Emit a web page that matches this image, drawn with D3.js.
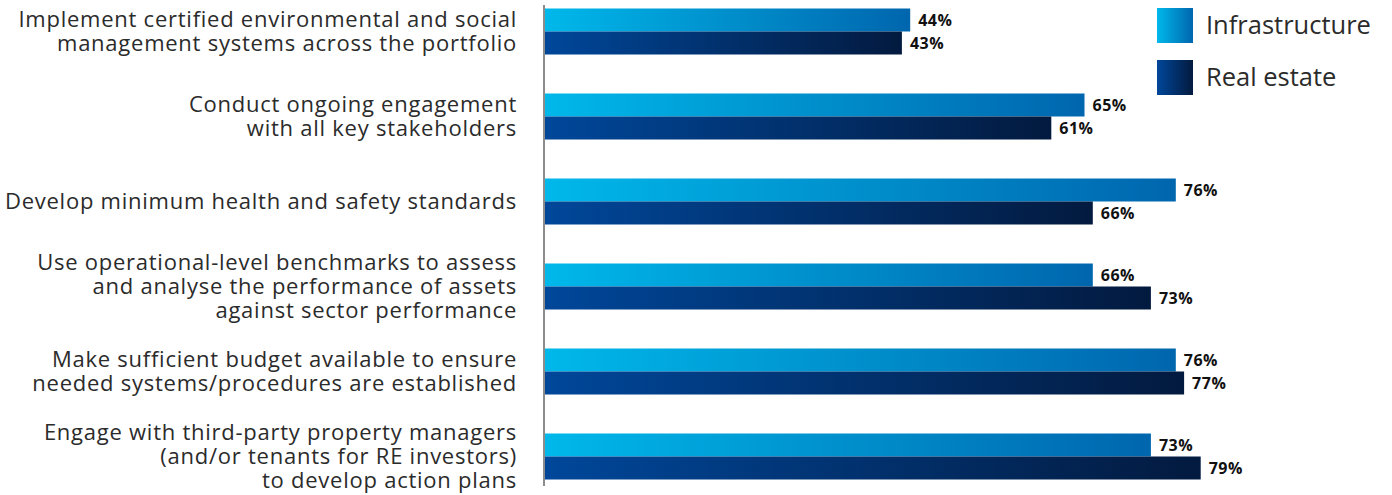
<!DOCTYPE html>
<html>
<head>
<meta charset="utf-8">
<script src="https://cdn.jsdelivr.net/npm/d3@7"></script>
<style>
  html, body { margin: 0; padding: 0; background: #fff; }
  svg { display: block; }
</style>
</head>
<body>
<svg id="chart" width="1392" height="495"></svg>
<script>
// Survey actions and the share of investors applying each one
const categories = [
  ["Implement certified environmental and social", "management systems across the portfolio"],
  ["Conduct ongoing engagement", "with all key stakeholders"],
  ["Develop minimum health and safety standards"],
  ["Use operational-level benchmarks to assess", "and analyse the performance of assets", "against sector performance"],
  ["Make sufficient budget available to ensure", "needed systems/procedures are established"],
  ["Engage with third-party property managers", "(and/or tenants for RE investors)", "to develop action plans"]
];
const seriesNames = ["Infrastructure", "Real estate"];
const infrastructure = [44, 65, 76, 66, 76, 73];
const realEstate = [43, 61, 66, 73, 77, 79];

const svg = d3.select("#chart");
const defs = svg.append("defs");

const gradients = {
  "Infrastructure": ["#00b8ea", "#0066ae"],
  "Real estate": ["#00479a", "#031a3f"]
};
Object.entries(gradients).forEach(([name, stops], i) => {
  const g = defs.append("linearGradient")
    .attr("id", "grad" + i)
    .attr("x1", "0%").attr("x2", "100%").attr("y1", "0%").attr("y2", "0%");
  g.append("stop").attr("offset", "0%").attr("stop-color", stops[0]);
  g.append("stop").attr("offset", "100%").attr("stop-color", stops[1]);
});
const fillFor = name => "url(#grad" + seriesNames.indexOf(name) + ")";

const x0 = 545;
const x = d3.scaleLinear().domain([0, 100]).range([x0, x0 + 830]);

const idx = d3.range(categories.length);
const y = d3.scaleBand().domain(idx).range([-11, 499]).padding(0);
const ySeries = d3.scaleBand().domain(seriesNames)
  .range([(y.bandwidth() - 46) / 2, (y.bandwidth() + 46) / 2]).padding(0);

const rows = idx.map(i => ({
  i,
  values: [
    { series: "Infrastructure", value: infrastructure[i] },
    { series: "Real estate", value: realEstate[i] }
  ]
}));

const group = svg.selectAll("g.row").data(rows).join("g")
  .attr("class", "row")
  .attr("transform", d => `translate(0,${y(d.i)})`);

group.selectAll("rect").data(d => d.values).join("rect")
  .attr("x", x(0))
  .attr("y", d => ySeries(d.series))
  .attr("width", d => x(d.value) - x(0))
  .attr("height", ySeries.bandwidth())
  .attr("fill", d => fillFor(d.series));

group.selectAll("text.val").data(d => d.values).join("text")
  .attr("class", "val")
  .attr("x", d => x(d.value) + 8)
  .attr("y", d => ySeries(d.series) + ySeries.bandwidth() / 2)
  .attr("dy", "0.36em")
  .attr("font-family", "'Open Sans', sans-serif")
  .attr("font-weight", 700)
  .attr("font-size", 16)
  .attr("letter-spacing", 0.5)
  .attr("fill", "#111")
  .text(d => d.value + "%");

// Category labels, right-aligned against the axis
const lineH = 24;
group.append("text")
  .attr("text-anchor", "end")
  .attr("font-family", "'Open Sans', sans-serif")
  .attr("font-size", 22)
  .attr("letter-spacing", 0.75)
  .attr("fill", "#2b2b2b")
  .each(function(d) {
    const lines = categories[d.i];
    const t = d3.select(this);
    const start = y.bandwidth() / 2 - (lines.length - 1) * lineH / 2;
    lines.forEach((ln, k) => {
      t.append("tspan")
        .attr("x", 517)
        .attr("y", start + k * lineH)
        .attr("dy", "0.35em")
        .text(ln);
    });
  });

// Vertical axis line
svg.append("line")
  .attr("x1", 544).attr("x2", 544)
  .attr("y1", 5).attr("y2", 486)
  .attr("stroke", "#666").attr("stroke-width", 1.5);

// Legend
const legend = svg.append("g").attr("transform", "translate(1157,8)");
const li = legend.selectAll("g").data(seriesNames).join("g")
  .attr("transform", (d, i) => `translate(0,${i * 52})`);
li.append("rect").attr("width", 36).attr("height", 35).attr("fill", d => fillFor(d));
li.append("text")
  .attr("x", 49).attr("y", 17.5).attr("dy", "0.35em")
  .attr("font-family", "'Open Sans', sans-serif")
  .attr("font-size", 25.5)
  .attr("fill", "#2b2b2b")
  .text(d => d);
</script>
</body>
</html>
